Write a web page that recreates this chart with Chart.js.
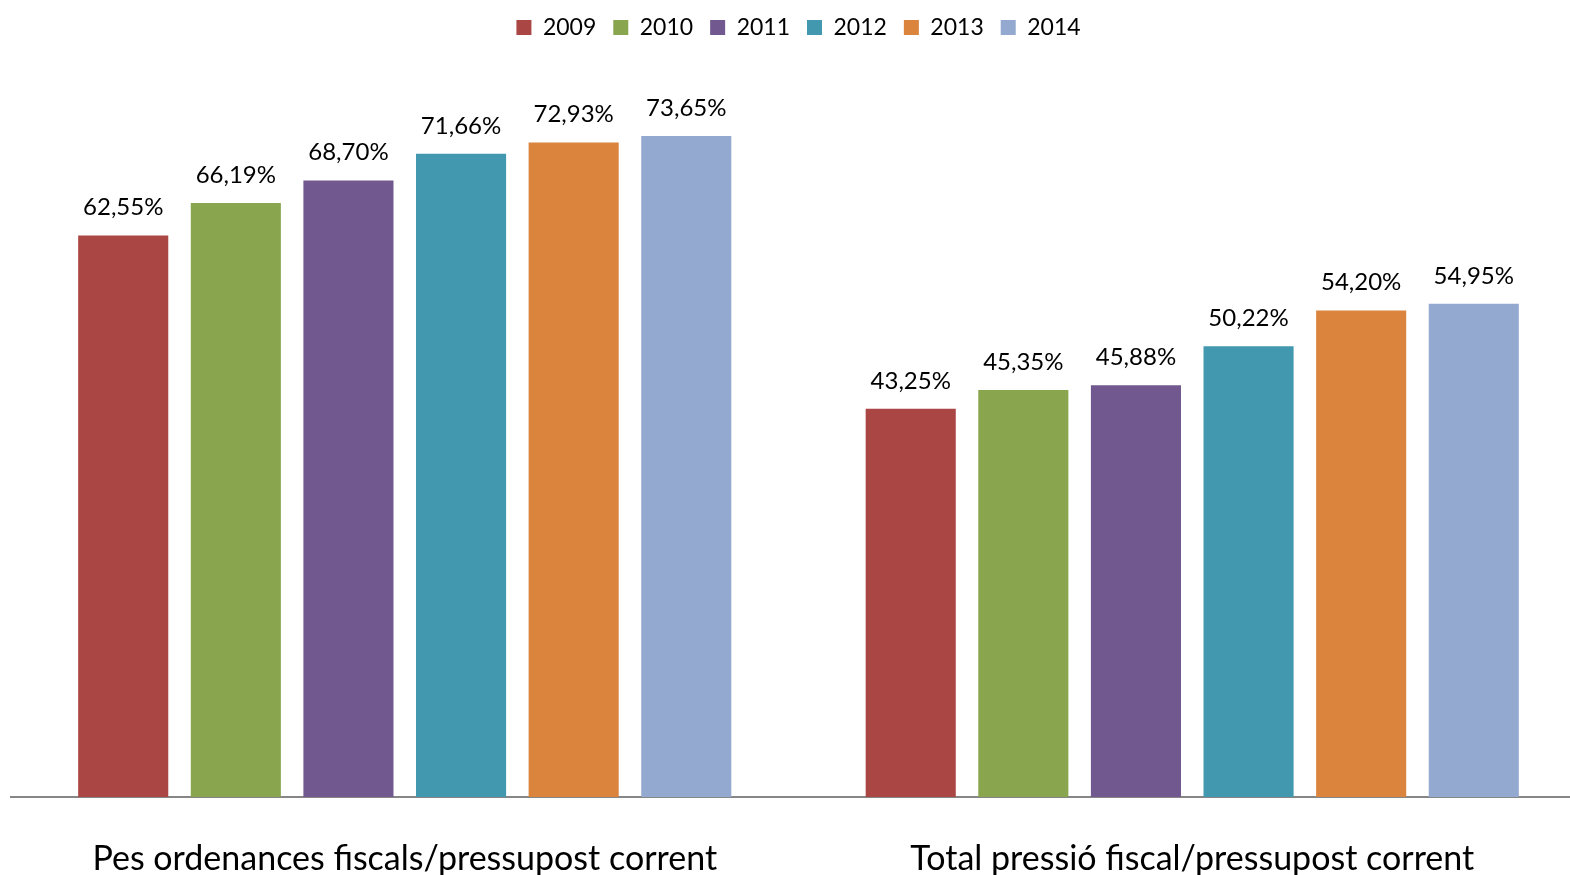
<!DOCTYPE html>
<html>
<head>
<meta charset="utf-8">
<script src="https://cdn.jsdelivr.net/npm/chart.js@4.4.1/dist/chart.umd.min.js"></script>
<style>
  html, body { margin: 0; padding: 0; background: #ffffff; overflow: hidden; }
  #wrap { width: 1586px; height: 875px; position: relative; }
</style>
</head>
<body>
<div id="wrap"><canvas id="c"></canvas></div>
<script>
const categories = ["Pes ordenances fiscals/pressupost corrent", "Total pressió fiscal/pressupost corrent"];
const years = ["2009", "2010", "2011", "2012", "2013", "2014"];
const v2009 = [62.55, 43.25];
const v2010 = [66.19, 45.35];
const v2011 = [68.70, 45.88];
const v2012 = [71.66, 50.22];
const v2013 = [72.93, 54.20];
const v2014 = [73.65, 54.95];
const seriesValues = [v2009, v2010, v2011, v2012, v2013, v2014];
const colors = ["#AA4643", "#89A54E", "#71588F", "#4198AF", "#DB843D", "#93A9CF"];

const FONT = "Lato, 'Open Sans', sans-serif";

const labelPlugin = {
  id: 'barLabels',
  afterDatasetsDraw(chart) {
    const ctx = chart.ctx;
    ctx.save();
    ctx.font = "24px " + FONT;
    ctx.fillStyle = "#000000";
    ctx.textAlign = "center";
    ctx.textBaseline = "middle";
    chart.data.datasets.forEach((ds, i) => {
      const meta = chart.getDatasetMeta(i);
      meta.data.forEach((bar, j) => {
        const txt = ds.data[j].toFixed(2).replace('.', ',') + '%';
        ctx.fillText(txt, bar.x, bar.y - 28);
      });
    });
    ctx.restore();
  }
};

const legendHeightPlugin = {
  id: 'legendHeight',
  beforeInit(chart) {
    const origFit = chart.legend.fit;
    chart.legend.fit = function () {
      origFit.bind(chart.legend)();
      this.height = 80;
    };
  }
};

new Chart(document.getElementById('c'), {
  type: 'bar',
  data: {
    labels: categories,
    datasets: years.map((y, i) => ({
      label: y,
      data: seriesValues[i],
      backgroundColor: colors[i],
      borderWidth: 0,
      categoryPercentage: 0.858,
      barPercentage: 0.8
    }))
  },
  options: {
    responsive: true,
    maintainAspectRatio: false,
    animation: false,
    layout: { padding: { left: 11, right: 0, top: -1, bottom: 0 } },
    plugins: {
      legend: {
        position: 'top',
        labels: {
          font: { family: FONT, size: 23 },
          color: '#000000',
          boxWidth: 15,
          boxHeight: 15,
          padding: 17
        }
      },
      tooltip: { enabled: false }
    },
    scales: {
      x: {
        grid: { display: false, drawTicks: false },
        border: { display: true, color: '#868686', width: 2 },
        ticks: { font: { family: FONT, size: 34 }, color: '#000000', padding: 42 },
        afterFit(scale) { scale.height = 78; }
      },
      y: {
        display: false,
        min: 0,
        max: 80
      }
    }
  },
  plugins: [labelPlugin, legendHeightPlugin]
});
</script>
</body>
</html>
